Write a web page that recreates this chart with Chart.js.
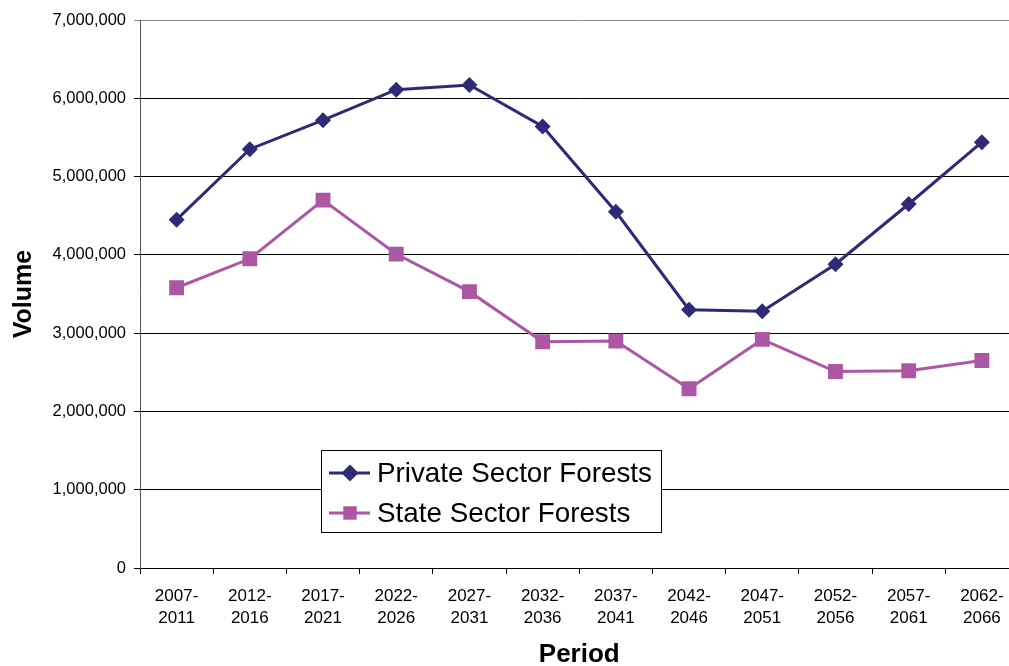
<!DOCTYPE html>
<html>
<head>
<meta charset="utf-8">
<script src="https://cdn.jsdelivr.net/npm/chart.js@4/dist/chart.umd.min.js"></script>
<style>
html,body{margin:0;padding:0;background:#fff;overflow:hidden;}
#wrap{width:1029px;height:666px;}
</style>
</head>
<body>
<div id="wrap"><canvas id="c" width="1029" height="666"></canvas></div>
<script>
const categories = [["2007-","2011"],["2012-","2016"],["2017-","2021"],["2022-","2026"],["2027-","2031"],["2032-","2036"],["2037-","2041"],["2042-","2046"],["2047-","2051"],["2052-","2056"],["2057-","2061"],["2062-","2066"]];
const privateSector = [4450000,5350000,5720000,6110000,6170000,5640000,4550000,3300000,3280000,3880000,4650000,5440000];
const stateSector = [3580000,3950000,4700000,4010000,3530000,2890000,2900000,2290000,2920000,2510000,2520000,2650000];
const seriesNames = ["Private Sector Forests","State Sector Forests"];
const yTitle = "Volume";
const xTitle = "Period";

const navy = '#2E2A78';
const magenta = '#AC57A3';
const FONT = '"Liberation Sans", Arial, sans-serif';

const legendBox = {
  id: 'legendBox',
  afterDraw(chart) {
    const ctx = chart.ctx;
    ctx.save();
    const x0 = 321, y0 = 450, w = 340, h = 82;
    ctx.fillStyle = '#fff';
    ctx.fillRect(x0, y0, w, h);
    ctx.strokeStyle = '#000';
    ctx.lineWidth = 1;
    ctx.strokeRect(x0 + 0.5, y0 + 0.5, w, h);
    const rows = [
      {name: seriesNames[0], color: navy, style: 'rectRot', r: 8.5, y: 473},
      {name: seriesNames[1], color: magenta, style: 'rect', r: 9.5, y: 513}
    ];
    rows.forEach(row => {
      ctx.strokeStyle = row.color;
      ctx.lineWidth = 3;
      ctx.beginPath();
      ctx.moveTo(329, row.y);
      ctx.lineTo(370, row.y);
      ctx.stroke();
      ctx.fillStyle = row.color;
      Chart.helpers.drawPoint(ctx, {pointStyle: row.style, radius: row.r, borderWidth: 0, rotation: 0}, 350, row.y);
      ctx.fillStyle = '#000';
      ctx.font = '27.8px ' + FONT;
      ctx.textBaseline = 'middle';
      ctx.textAlign = 'left';
      ctx.fillText(row.name, 377, row.y + 1);
    });
    ctx.restore();
  }
};

new Chart(document.getElementById('c'), {
  type: 'line',
  data: {
    labels: categories,
    datasets: [
      {label: seriesNames[0], data: privateSector, borderColor: navy, backgroundColor: navy,
       borderWidth: 3, pointStyle: 'rectRot', pointRadius: 8, pointBorderWidth: 0, tension: 0},
      {label: seriesNames[1], data: stateSector, borderColor: magenta, backgroundColor: magenta,
       borderWidth: 3, pointStyle: 'rect', pointRadius: 10.5, pointBorderWidth: 0, tension: 0}
    ]
  },
  options: {
    responsive: false,
    animation: false,
    devicePixelRatio: 1,
    layout: {padding: {top: 20, right: 0, left: 0, bottom: 0}},
    plugins: {legend: {display: false}, tooltip: {enabled: false}},
    scales: {
      x: {
        offset: true,
        grid: {offset: true, drawOnChartArea: false, drawTicks: true, tickLength: 6, color: '#000'},
        border: {color: '#000', width: 1},
        ticks: {color: '#000', font: {family: FONT, size: 17, lineHeight: 1.3}, padding: 11, maxRotation: 0, autoSkip: false},
        title: {display: true, text: xTitle, color: '#000', font: {family: FONT, size: 26, weight: 'bold', lineHeight: 1}, padding: {top: 0, bottom: -2}},
        afterFit(scale) { scale.height = 98; }
      },
      y: {
        min: 0, max: 7000000,
        grid: {color: ctx => ctx.index === 7 ? '#888' : '#000', tickLength: 6, lineWidth: 1},
        border: {color: '#555', width: 1},
        ticks: {stepSize: 1000000, color: '#000', padding: 8,
          font: {family: FONT, size: 16.5},
          callback: v => v.toLocaleString('en-US')},
        title: {display: true, text: yTitle, color: '#000', font: {family: FONT, size: 25, weight: 'bold', lineHeight: 1.2}, padding: {top: 9, bottom: 0}},
        afterFit(scale) { scale.width = 140; }
      }
    }
  },
  plugins: [legendBox]
});
</script>
</body>
</html>
